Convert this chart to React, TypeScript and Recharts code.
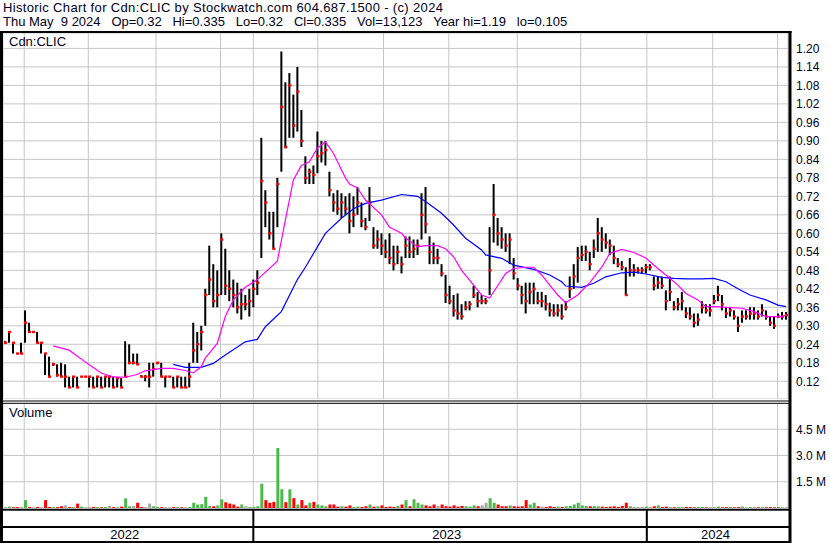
import React from 'react';
import { ComposedChart, Bar, Line, XAxis, YAxis, CartesianGrid, ReferenceLine, Cell } from 'recharts';

// ---- daily-ish OHLC samples (price in $) ----
const high = [
  .25,.28,.245,.21,.245,.35,.31,.28,.28,.245,
  .21,.20,.18,.175,.18,.175,.135,.135,.135,.135,
  .135,.135,.135,.135,.135,.135,.135,.135,.13,.13,
  .25,.24,.21,.21,.14,.14,.18,.18,.18,.18,
  .135,.135,.135,.135,.135,.135,.18,.31,.28,.30,
  .42,.56,.50,.48,.60,.55,.48,.45,.44,.42,
  .40,.42,.45,.48,.91,.74,.67,.67,.78,1.19,
  1.09,1.12,1.05,1.14,1.0,.85,.81,.82,.93,.90,
  .90,.80,.73,.74,.73,.72,.73,.72,.75,.70,
  .65,.75,.62,.61,.60,.58,.60,.56,.56,.525,
  .59,.59,.58,.58,.73,.75,.59,.57,.55,.50,
  .465,.43,.40,.405,.37,.38,.38,.43,.41,.40,
  .39,.62,.76,.65,.62,.60,.60,.52,.455,.43,
  .44,.44,.44,.41,.41,.40,.375,.37,.37,.37,
  .38,.46,.50,.556,.56,.56,.54,.58,.65,.62,
  .60,.58,.56,.52,.51,.49,.52,.50,.49,.49,
  .50,.50,.46,.46,.46,.415,.46,.38,.39,.41,
  .36,.36,.34,.34,.38,.37,.37,.40,.43,.40,
  .36,.36,.35,.33,.35,.35,.36,.36,.35,.37,
  .35,.33,.33,.34,.345,.345,
];
const low = [
  .245,.245,.21,.21,.21,.245,.28,.28,.245,.21,
  .14,.135,.17,.135,.135,.10,.10,.10,.10,.135,
  .135,.10,.10,.10,.10,.10,.10,.10,.10,.10,
  .135,.175,.175,.175,.135,.12,.10,.135,.175,.135,
  .10,.135,.10,.10,.10,.10,.10,.18,.18,.22,
  .30,.40,.36,.36,.40,.40,.38,.36,.34,.32,
  .35,.33,.36,.40,.52,.62,.58,.55,.62,.80,
  .876,.91,.91,.93,.88,.76,.76,.76,.795,.83,
  .82,.72,.67,.66,.65,.66,.60,.62,.66,.62,
  .61,.64,.55,.55,.53,.52,.50,.48,.50,.47,
  .52,.52,.52,.53,.58,.60,.50,.50,.50,.46,
  .374,.37,.33,.32,.32,.35,.35,.39,.36,.37,
  .37,.40,.57,.56,.55,.54,.50,.45,.415,.37,
  .34,.37,.37,.37,.36,.35,.33,.33,.33,.32,
  .35,.39,.42,.44,.51,.51,.48,.52,.54,.54,
  .55,.53,.50,.49,.48,.40,.46,.46,.47,.47,
  .47,.48,.415,.42,.42,.35,.38,.35,.35,.35,
  .325,.32,.295,.30,.34,.34,.33,.37,.38,.35,
  .325,.33,.32,.28,.31,.32,.32,.32,.32,.33,
  .32,.30,.29,.325,.32,.32,
];
const close = [
  .245,.28,.245,.21,.21,.31,.28,.28,.245,.245,
  .21,.135,.175,.14,.135,.135,.10,.135,.10,.135,
  .135,.135,.10,.135,.10,.135,.135,.10,.13,.10,
  .135,.18,.18,.175,.135,.135,.135,.16,.18,.135,
  .135,.135,.10,.135,.10,.10,.135,.22,.24,.28,
  .40,.45,.38,.40,.58,.43,.42,.40,.36,.37,
  .37,.38,.42,.44,.77,.70,.60,.55,.76,1.01,
  .88,1.08,.95,1.06,.90,.78,.80,.79,.85,.86,
  .87,.74,.70,.68,.70,.68,.64,.66,.70,.64,
  .62,.70,.56,.58,.56,.54,.52,.50,.54,.50,
  .56,.54,.55,.56,.66,.63,.54,.52,.52,.47,
  .40,.38,.35,.34,.33,.36,.37,.40,.38,.38,
  .38,.48,.66,.60,.58,.56,.58,.47,.43,.40,
  .38,.41,.42,.38,.38,.37,.35,.34,.35,.33,
  .36,.42,.46,.52,.53,.54,.50,.55,.60,.58,
  .57,.56,.52,.50,.49,.40,.48,.48,.48,.48,
  .49,.49,.43,.44,.43,.38,.41,.36,.37,.38,
  .34,.33,.31,.32,.36,.35,.35,.38,.40,.37,
  .34,.35,.33,.30,.33,.33,.34,.34,.33,.35,
  .33,.31,.30,.33,.33,.335,
];
// volume in millions of shares
const volume = [
  .05,.08,.04,.05,.06,.45,.05,.04,.06,.05,
  .45,.06,.05,.05,.1,.15,.05,.05,.25,.08,
  .04,.05,.06,.05,.04,.06,.12,.05,.04,.08,
  .55,.1,.12,.3,.06,.05,.25,.1,.06,.05,
  .05,.04,.05,.05,.04,.05,.05,.3,.2,.22,
  .64,.12,.1,.15,.5,.33,.25,.2,.08,.2,
  .1,.05,.06,.1,1.39,.45,.3,.35,3.43,1.07,
  .33,1.07,.56,.2,.45,.15,.3,.35,.2,.15,
  .1,.2,.2,.08,.1,.08,.15,.06,.08,.06,
  .1,.2,.08,.1,.15,.06,.08,.06,.12,.2,
  .45,.1,.5,.3,.2,.15,.1,.2,.12,.2,
  .1,.08,.15,.08,.12,.1,.08,.15,.1,.15,
  .3,.56,.3,.2,.1,.1,.15,.1,.08,.1,
  .45,.2,.3,.1,.08,.06,.1,.06,.08,.06,
  .1,.12,.2,.3,.15,.12,.1,.12,.1,.08,
  .06,.08,.1,.06,.12,.3,.1,.06,.05,.05,
  .08,.06,.1,.15,.06,.08,.05,.04,.05,.04,
  .06,.05,.04,.05,.06,.04,.05,.04,.08,.04,
  .05,.06,.04,.05,.08,.04,.05,.06,.04,.05,
  .04,.05,.04,.06,.04,.03,
];

// moving averages (sample index -> value)
const fastIdx = [12,16,20,24,27,30,33,35,39,42,45,47,49,50,53,55,57,60,63,68,70,72,74,76,78,80,82,85,86,88,90,94,96,99,100,103,105,108,110,112,114,117,119,121,123,125,127,130,132,134,136,138,140,143,146,149,151,154,157,160,163,166,168,170,173,175,178,180,184,187,190,194,195];
const fastVal = [.235,.221,.183,.147,.134,.133,.142,.154,.162,.162,.155,.147,.167,.195,.243,.33,.384,.425,.45,.51,.643,.773,.82,.832,.877,.897,.86,.78,.76,.747,.708,.66,.62,.60,.585,.556,.56,.56,.55,.524,.48,.432,.40,.39,.43,.47,.486,.49,.49,.465,.432,.40,.375,.40,.44,.49,.535,.548,.538,.52,.486,.454,.432,.405,.384,.362,.362,.36,.357,.346,.33,.33,.335];
const slowIdx = [42,45,49,52,55,60,63,65,69,73,75,78,80,84,87,90,94,99,103,105,109,112,115,119,120,124,127,132,136,139,140,144,147,150,154,157,160,164,167,170,174,177,180,183,186,190,193,195];
const slowVal = [.175,.165,.165,.178,.205,.248,.256,.297,.346,.45,.49,.556,.60,.649,.68,.697,.708,.726,.72,.703,.665,.627,.584,.546,.53,.519,.497,.483,.465,.443,.429,.425,.438,.459,.472,.474,.468,.457,.454,.452,.452,.454,.443,.42,.40,.384,.367,.362];

// axis ticks (in sample-index units for x)
const monthTicks = [4.8,13.1,20.8,29.6,37.7,45.9,53.8,62.0,70.6,78.1,86.4,94.5,102.9,110.8,119.2,127.9,135.4,143.75,152.1,160.25,168.75,176.7,185,192.9];
const yearStarts = [62.0, 160.25];
const yearLabels = ['2022','2023','2024'];
const yearLabelPos = [29.9, 110.3, 177.4];
const priceTicks = [0.12,0.18,0.24,0.30,0.36,0.42,0.48,0.54,0.60,0.66,0.72,0.78,0.84,0.90,0.96,1.02,1.08,1.14,1.20];
const volumeTicks = [1.5, 3.0, 4.5];

const titleLine1 = 'Historic Chart for Cdn:CLIC by Stockwatch.com 604.687.1500 - (c) 2024';
const titleLine2 = 'Thu May  9 2024   Op=0.32   Hi=0.335   Lo=0.32   Cl=0.335   Vol=13,123   Year hi=1.19   lo=0.105';

const rows: any[] = high.map((h, i) => ({
  x: i,
  hl: [low[i], h],
  close: close[i],
  vol: volume[i],
  dir: i === 0 ? 0 : Math.sign(close[i] - close[i - 1]),
  band: 0.5,
}));
fastIdx.forEach((k, j) => { rows[k].maFast = fastVal[j]; });
slowIdx.forEach((k, j) => { rows[k].maSlow = slowVal[j]; });

const FONT = '"Liberation Sans", Arial, Helvetica, sans-serif';
const TXT = '#000022';
const GRID = '#c6c6c6';
const XDOM: [number, number] = [-0.5, 195.5];

const OhlcShape = (props: any) => {
  const { x, y, width, height, payload } = props;
  if (x == null || y == null || !payload) return <g />;
  const cx = x + (width || 0) / 2;
  const top = Math.min(y, y + (height || 0));
  const h = Math.abs(height || 0);
  const lo = payload.hl[0];
  const hi = payload.hl[1];
  const cy = hi === lo ? top : top + ((hi - payload.close) / (hi - lo)) * h;
  return (
    <g>
      {h > 0 && <rect x={cx - 1} y={top} width={2} height={h} fill="#000" />}
      <rect x={cx - 1} y={cy - 1.2} width={3} height={2.4} fill="#ff0000" />
    </g>
  );
};

const volColor = (d: number) => (d > 0 ? '#4cb84c' : d < 0 ? '#ff0000' : '#a8a8a8');

export default function App() {
  return (
    <div style={{ position: 'absolute', left: 0, top: 0, width: 830, height: 543, background: '#fff', overflow: 'hidden', fontFamily: FONT }}>
      <div style={{ position: 'absolute', left: 3, top: 0, fontSize: 13, lineHeight: '15px', color: TXT, whiteSpace: 'pre', letterSpacing: 0.35 }}>{titleLine1}</div>
      <div style={{ position: 'absolute', left: 3, top: 14, fontSize: 13, lineHeight: '15px', color: TXT, whiteSpace: 'pre' }}>{titleLine2}</div>

      {/* price panel */}
      <div style={{ position: 'absolute', left: 0, top: 33 }}>
        <ComposedChart width={830} height={366} data={rows} margin={{ top: 0, right: 2, bottom: 0, left: 3 }}>
          <CartesianGrid stroke={GRID} strokeWidth={1} />
          <XAxis type="number" dataKey="x" domain={XDOM} ticks={monthTicks} hide allowDataOverflow />
          <YAxis orientation="right" domain={[0.0625, 1.25]} ticks={priceTicks} interval={0} width={40}
            axisLine={false} tickLine={false} tickSize={0} tickMargin={8} allowDataOverflow
            tick={{ fontSize: 12, fill: TXT, fontFamily: FONT }} tickFormatter={(v: number) => v.toFixed(2)} />
          <Bar dataKey="hl" barSize={2} shape={OhlcShape} isAnimationActive={false} />
          <Line type="linear" dataKey="maSlow" stroke="#0000ff" strokeWidth={1.2} dot={false} connectNulls isAnimationActive={false} />
          <Line type="linear" dataKey="maFast" stroke="#ff00ff" strokeWidth={1.2} dot={false} connectNulls isAnimationActive={false} />
        </ComposedChart>
      </div>
      <div style={{ position: 'absolute', left: 9, top: 34, fontSize: 13, color: TXT }}>Cdn:CLIC</div>

      {/* volume panel */}
      <div style={{ position: 'absolute', left: 0, top: 403 }}>
        <ComposedChart width={830} height={105} data={rows} margin={{ top: 0, right: 2, bottom: 0, left: 3 }}>
          <CartesianGrid stroke={GRID} strokeWidth={1} />
          <XAxis type="number" dataKey="x" domain={XDOM} ticks={monthTicks} hide allowDataOverflow />
          <YAxis orientation="right" domain={[0, 6]} ticks={volumeTicks} interval={0} width={40}
            axisLine={false} tickLine={false} tickSize={0} tickMargin={8} allowDataOverflow
            tick={{ fontSize: 12, fill: TXT, fontFamily: FONT }} tickFormatter={(v: number) => v.toFixed(1) + ' M'} />
          <Bar dataKey="vol" barSize={3} isAnimationActive={false}>
            {rows.map((r, i) => <Cell key={i} fill={volColor(r.dir)} />)}
          </Bar>
        </ComposedChart>
      </div>
      <div style={{ position: 'absolute', left: 9, top: 405, fontSize: 13, color: TXT }}>Volume</div>

      {/* date strip */}
      <div style={{ position: 'absolute', left: 0, top: 510 }}>
        <ComposedChart width={830} height={32} data={rows} margin={{ top: 0, right: 42, bottom: 0, left: 3 }}>
          <XAxis type="number" dataKey="x" domain={XDOM} hide allowDataOverflow />
          <YAxis hide domain={[0, 1]} allowDataOverflow />
          <Line type="linear" dataKey="band" stroke="#ffffff" strokeOpacity={0} dot={false} isAnimationActive={false} />
          {yearStarts.map((v, i) => (
            <ReferenceLine key={'s' + i} x={v} stroke="#000" strokeWidth={2} ifOverflow="visible" />
          ))}
          {yearLabelPos.map((v, i) => (
            <ReferenceLine key={'l' + i} x={v} stroke="#000" strokeOpacity={0} ifOverflow="visible"
              label={{ value: yearLabels[i], position: 'insideBottom', offset: 3, fill: TXT, fontSize: 13, fontFamily: FONT }} />
          ))}
        </ComposedChart>
      </div>

      {/* frame */}
      <svg width={830} height={543} style={{ position: 'absolute', left: 0, top: 0, pointerEvents: 'none' }}>
        <rect x={0} y={31} width={791.5} height={2} fill="#000" />
        <rect x={0} y={31} width={3} height={512} fill="#000" />
        <rect x={788.5} y={31} width={3} height={512} fill="#000" />
        <rect x={0} y={400.5} width={790} height={1} fill="#000" />
        <rect x={0} y={402.8} width={790} height={1} fill="#000" />
        <rect x={0} y={508.7} width={790} height={2} fill="#000" />
        <rect x={0} y={526} width={790} height={2} fill="#000" />
        <rect x={0} y={541} width={790} height={2} fill="#000" />
      </svg>
    </div>
  );
}
